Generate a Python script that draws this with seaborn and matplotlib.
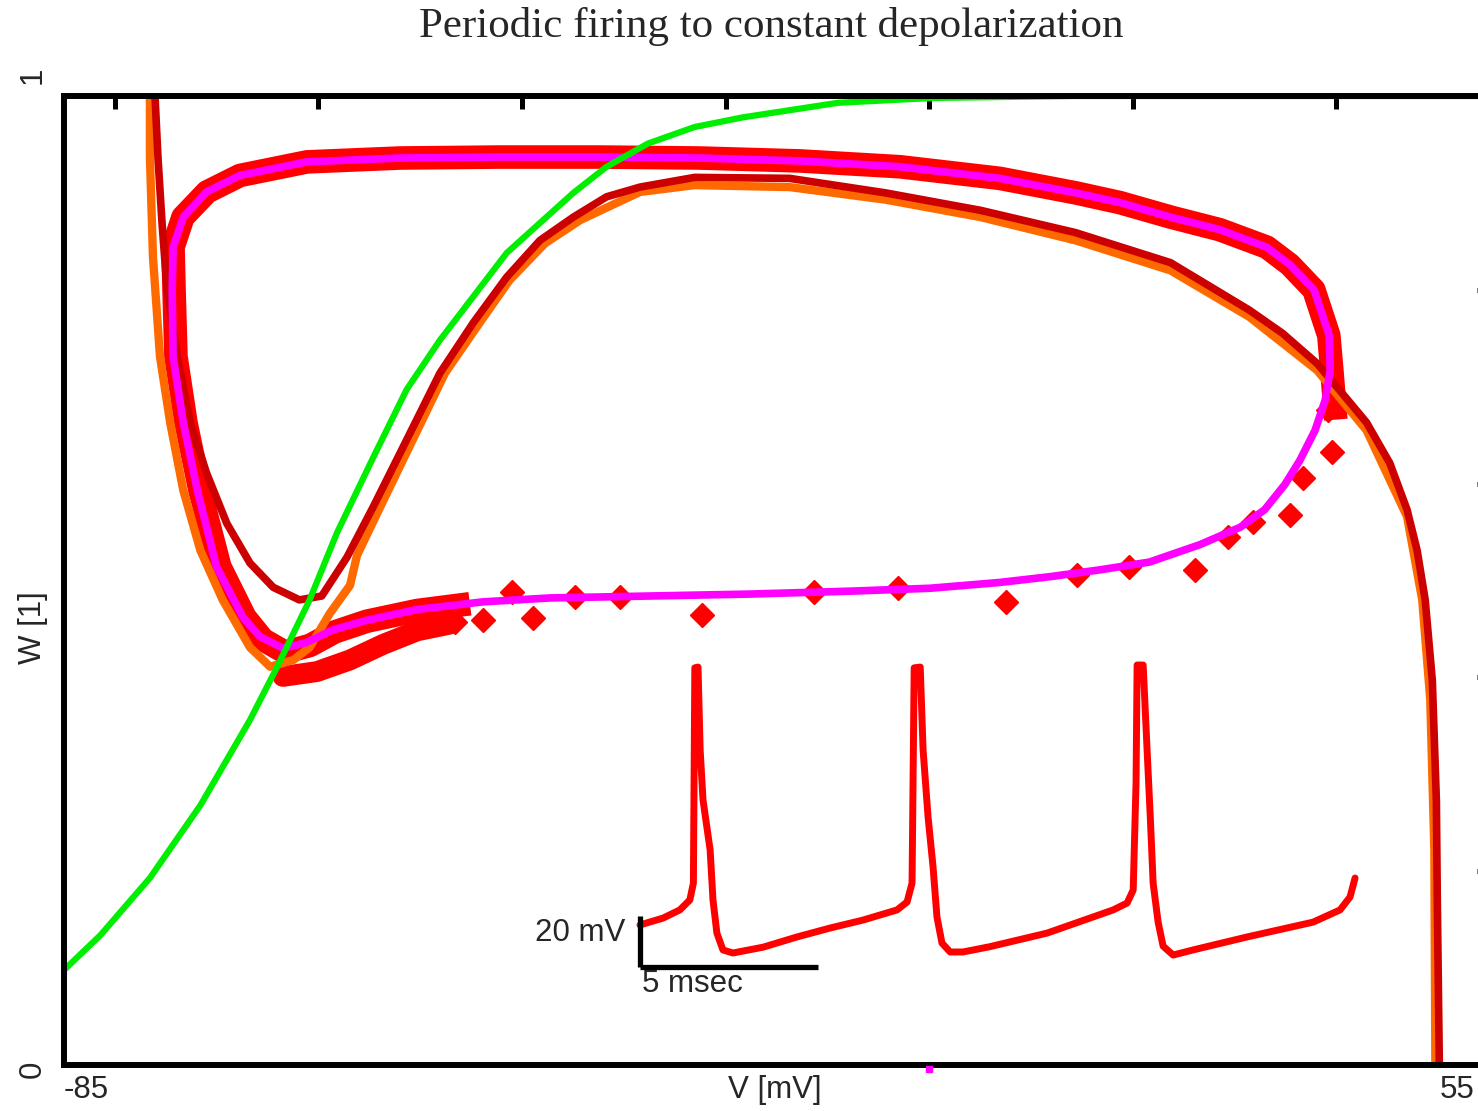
import numpy as np
import matplotlib
matplotlib.use("Agg")
import matplotlib.pyplot as plt
import seaborn as sns

sns.set_style("white")
plt.rcParams['font.family'] = ['Liberation Sans', 'DejaVu Sans']

# W_inf(V) -- green
green_V = [-85, -81.42, -76.56, -71.60, -66.73, -64.05, -60.87, -58.19, -54.62, -51.34, -48.07,
           -44.79, -41.51, -38.24, -34.96, -31.69, -27.62, -23.05, -18.28, -8.95, 0.38, 14.38, 55]
green_W = [0.098, 0.134, 0.193, 0.268, 0.356, 0.411, 0.480, 0.549, 0.627, 0.697, 0.748, 0.793,
           0.838, 0.869, 0.900, 0.927, 0.951, 0.968, 0.978, 0.993, 0.998, 1.0, 1.0]

# V-nullcline, dark red
dred_V = [-76.06, -75.77, -75.37, -74.87, -73.88, -72.59, -71.00, -69.01, -66.73, -64.45, -61.87,
          -59.68, -57.20, -54.62, -51.34, -48.07, -44.79, -41.51, -38.24, -34.96, -31.69, -28.41,
          -23.05, -13.71, -4.28, 5.05, 14.38, 23.71, 31.46, 34.73, 38.11, 40.59, 42.97, 45.26,
          46.95, 47.94, 48.73, 49.43, 49.83, 49.92, 50.12]
dred_W = [1.0, 0.937, 0.869, 0.800, 0.731, 0.663, 0.611, 0.559, 0.518, 0.493, 0.480, 0.484,
          0.524, 0.576, 0.645, 0.714, 0.766, 0.813, 0.851, 0.875, 0.896, 0.906, 0.916, 0.915,
          0.900, 0.882, 0.859, 0.828, 0.779, 0.755, 0.724, 0.693, 0.663, 0.621, 0.573, 0.531,
          0.480, 0.397, 0.273, 0.170, 0.0]

# V-nullcline, orange
orng_V = [-76.56, -76.56, -76.26, -75.57, -74.57, -73.28, -71.60, -69.41, -66.73, -64.75, -62.46,
          -60.87, -58.89, -56.90, -56.21, -53.93, -50.75, -47.57, -44.29, -41.22, -37.74, -34.27,
          -28.41, -23.05, -13.71, -4.28, 5.05, 14.38, 23.71, 31.46, 38.11, 42.97, 46.95, 48.44,
          49.23, 49.63, 49.73]
orng_W = [1.0, 0.937, 0.834, 0.731, 0.663, 0.593, 0.531, 0.480, 0.431, 0.411, 0.418, 0.431,
          0.466, 0.495, 0.526, 0.576, 0.645, 0.714, 0.764, 0.810, 0.848, 0.872, 0.901, 0.908,
          0.906, 0.893, 0.875, 0.851, 0.820, 0.772, 0.717, 0.655, 0.566, 0.480, 0.377, 0.222, 0.0]

# limit cycle (magenta)
cyc_V = [-63.45, -61.17, -58.59, -55.21, -50.35, -43.80, -37.25, -27.42, -17.59, -7.76, 0.09,
         6.94, 11.90, 16.77, 21.63, 26.60, 30.57, 32.95, 34.94, 36.42, 37.91, 38.90, 39.40, 39.30,
         37.81, 35.43, 33.15, 28.58, 23.71, 18.75, 14.38, 6.94, -2.89, -12.72, -22.55, -32.38,
         -42.21, -52.04, -61.17, -67.72, -71.00, -73.28, -74.28, -74.37, -74.28, -73.28, -71.90,
         -70.01, -67.42, -65.74, -63.45]
cyc_W = [0.430, 0.436, 0.449, 0.459, 0.470, 0.478, 0.482, 0.484, 0.486, 0.489, 0.492, 0.498,
         0.504, 0.511, 0.519, 0.537, 0.555, 0.573, 0.599, 0.624, 0.655, 0.686, 0.717, 0.753,
         0.800, 0.826, 0.844, 0.862, 0.875, 0.890, 0.900, 0.915, 0.927, 0.933, 0.936, 0.937,
         0.937, 0.936, 0.932, 0.918, 0.901, 0.875, 0.844, 0.800, 0.731, 0.663, 0.593, 0.514,
         0.462, 0.442, 0.430]

# simulated trajectory (red diamonds): dense part, transient, sparse part
traj_V = [39.95, 39.56, 39.26, 37.79, 35.43, 33.17, 28.56, 23.74, 18.73, 14.41, 6.94, -2.88,
          -12.70, -22.52, -32.35, -42.17, -51.99, -61.13, -67.71, -70.95, -73.31, -74.29, -74.19,
          -74.00, -73.02, -71.64, -69.68, -67.22, -65.45, -63.29, -60.83, -58.38, -55.24, -50.32,
          -45.12]
traj_W = [0.666, 0.717, 0.753, 0.800, 0.826, 0.844, 0.862, 0.875, 0.890, 0.900, 0.915, 0.927,
          0.933, 0.936, 0.937, 0.937, 0.936, 0.932, 0.918, 0.901, 0.875, 0.844, 0.800, 0.731,
          0.663, 0.593, 0.514, 0.462, 0.439, 0.426, 0.433, 0.447, 0.458, 0.469, 0.476]
trans_V = [-63.49, -60.15, -56.91, -53.66, -50.32, -47.08]
trans_W = [0.401, 0.406, 0.418, 0.434, 0.448, 0.455]
dia_V = [-46.59, -43.84, -40.99, -38.93, -34.80, -30.38, -22.33, -11.33, -3.07, 7.53, 14.51,
         19.62, 26.10, 29.34, 31.80, 35.43, 36.71, 39.56, 39.17]
dia_W = [0.457, 0.459, 0.488, 0.461, 0.483, 0.483, 0.464, 0.488, 0.492, 0.478, 0.506, 0.514,
         0.511, 0.545, 0.560, 0.568, 0.606, 0.633, 0.676]

# inset voltage trace
t_ms = [0.0, 0.65, 1.12, 1.40, 1.50, 1.54, 1.63, 1.69, 1.77, 1.97, 2.05, 2.16, 2.33, 2.61,
        3.46, 4.41, 5.34, 6.26, 7.22, 7.50, 7.64, 7.70, 7.87, 7.95, 8.09, 8.23, 8.34, 8.48,
        8.71, 9.07, 9.83, 11.43, 13.29, 13.68, 13.85, 13.93, 13.96, 14.13, 14.24, 14.33,
        14.41, 14.55, 14.69, 14.97, 15.53, 17.05, 18.90, 19.66, 19.94, 20.08]
v_mV = [-63.5, -60.8, -57.6, -53.7, -47.1, 37.3, 37.6, 5.1, -14.5, -34.1, -53.7, -66.7, -73.3,
        -74.5, -72.2, -68.2, -64.7, -61.6, -57.6, -54.5, -47.1, 37.3, 37.6, 5.1, -21.2, -40.8,
        -60.4, -70.6, -74.1, -74.1, -72.0, -66.7, -57.6, -54.9, -49.8, -7.8, 38.4, 38.4, 5.1,
        -21.2, -47.1, -62.4, -71.8, -75.3, -73.3, -68.2, -62.4, -57.6, -52.5, -45.1]

RED, ORANGE, DRED, MAG, GREEN = "#ff0000", "#ff6a00", "#cc0000", "#ff00ff", "#00ee00"

fig = plt.figure(figsize=(14.78, 11.11), dpi=100)
# right spine sits just outside the picture, as in the original
ax = fig.add_axes([64 / 1478, 46 / 1111, 1425 / 1478, 969 / 1111])

kw = dict(sort=False, estimator=None, ax=ax, legend=False)
sns.lineplot(x=traj_V, y=traj_W, color=RED, lw=17, solid_capstyle="butt", **kw)
sns.lineplot(x=trans_V, y=trans_W, color=RED, lw=15, solid_capstyle="round", **kw)
ax.plot(dia_V, dia_W, ls="none", marker="D", ms=12, color=RED, mec=RED)
sns.lineplot(x=orng_V, y=orng_W, color=ORANGE, lw=6, **kw)
sns.lineplot(x=dred_V, y=dred_W, color=DRED, lw=5.5, **kw)
sns.lineplot(x=cyc_V, y=cyc_W, color=MAG, lw=5.5, **kw)
sns.lineplot(x=green_V, y=green_W, color=GREEN, lw=4.5, **kw)
ax.plot([0.0], [-0.004], ls="none", marker="s", ms=5, color=MAG, clip_on=False, zorder=10)

ax.set_xlim(-85, 55)
ax.set_ylim(0, 1)
ax.set_xticks(np.arange(-80, 41, 20))
ax.set_yticks(np.arange(0.2, 0.81, 0.2))
ax.set_xticklabels([])
ax.set_yticklabels([])
ax.tick_params(direction="in", length=9, width=3.6, top=True, right=True, color="black")
for s in ax.spines.values():
    s.set_linewidth(4.3)
    s.set_color("black")

fs = 22.5
ax.text(0.0, -0.026, "-85", transform=ax.transAxes, ha="left", va="center", fontsize=fs)
ax.text(0.499, -0.026, "V [mV]", transform=ax.transAxes, ha="center", va="center", fontsize=fs)
ax.text(0.990, -0.026, "55", transform=ax.transAxes, ha="right", va="center", fontsize=fs)
ax.text(-0.0218, -0.004, "0", transform=ax.transAxes, ha="center", va="center", fontsize=fs, rotation=90)
ax.text(-0.0218, 1.0217, "1", transform=ax.transAxes, ha="center", va="center", fontsize=fs, rotation=90)
ax.text(-0.0218, 0.451, "W [1]", transform=ax.transAxes, ha="center", va="center", fontsize=fs, rotation=90)

fig.text(771 / 1478, 1 - 27 / 1111, "Periodic firing to constant depolarization",
         ha="center", va="center", fontsize=31, family="Liberation Serif")

# inset: voltage trace with scale bars
ins = ax.inset_axes([0.3902, 0.0774, 0.5263, 0.3509])
ins.set_facecolor("none")
sns.lineplot(x=t_ms, y=v_mV, sort=False, estimator=None, color=RED, lw=5, ax=ins, legend=False)
ins.plot([0, 0], [-80, -60], color="black", lw=3.8, solid_capstyle="butt")
ins.plot([0, 5], [-80, -80], color="black", lw=3.8, solid_capstyle="butt")
ins.text(-0.42, -66.7, "20 mV", ha="right", va="center", fontsize=fs)
ins.text(0.06, -86.5, "5 msec", ha="left", va="center", fontsize=fs)
ins.set_xlim(-0.56, 20.5)
ins.set_ylim(-89.0, 44.3)
ins.axis("off")

fig.savefig("out.png", dpi=100)
